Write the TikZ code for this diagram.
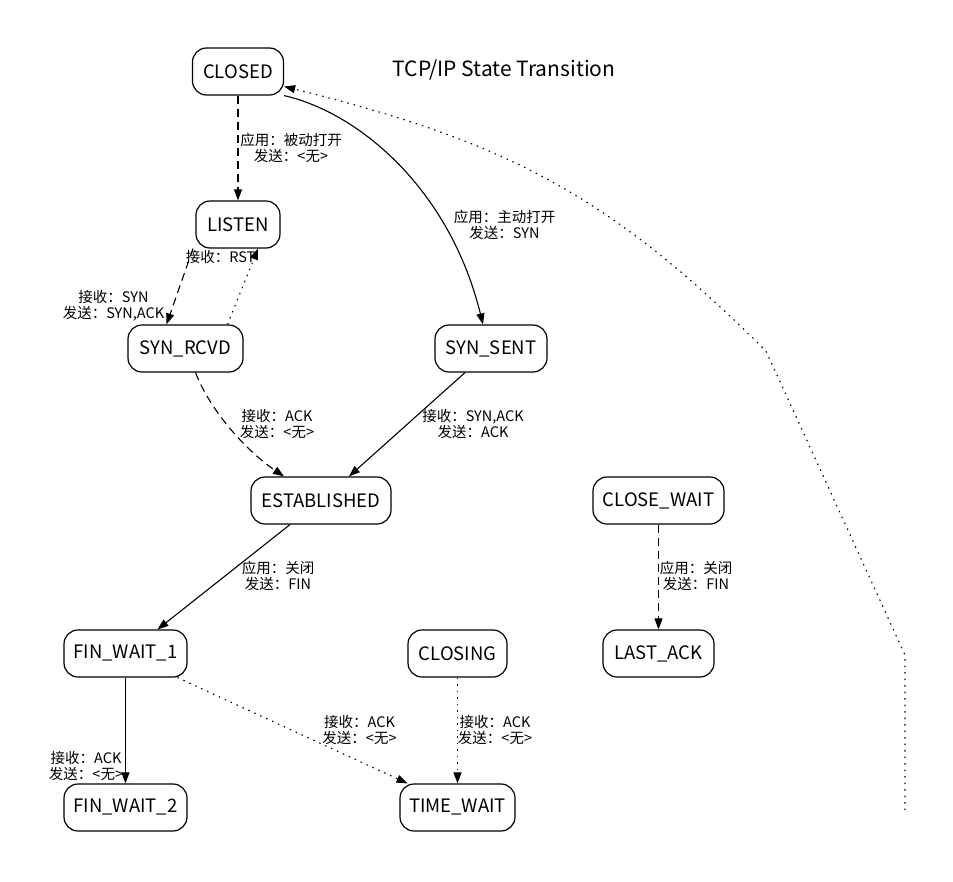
\documentclass[tikz,border=0pt]{standalone}
\usepackage{fontspec}
\setmainfont{Noto Sans CJK SC}
\usetikzlibrary{arrows.meta}
\begin{document}
\begin{tikzpicture}[x=1pt,y=-1pt,
  state/.style={draw, rounded corners=14pt, line width=1.2pt, minimum height=47pt, inner sep=0pt, font=\fontsize{18.5}{22}\selectfont},
  lbl/.style={font=\fontsize{14.5}{16}\selectfont, align=center, inner sep=0pt},
  arr/.style={-{Triangle[length=11pt,width=8pt]}, line width=1.1pt},
  dsh/.style={dash pattern=on 8pt off 5pt},
  dotline/.style={dash pattern=on 1.5pt off 5pt}]
\useasboundingbox (0,0) rectangle (953,881);

\node[font=\fontsize{21}{24}\selectfont] (title) at (504,70) {TCP/IP State Transition};

\node[state, minimum width=91pt]  (CLOSED)     at (238,71.5)  {CLOSED};
\node[state, minimum width=84pt]  (LISTEN)     at (238,224.5) {LISTEN};
\node[state, minimum width=115pt] (SYNRCVD)    at (185.5,348.5) {SYN\_RCVD};
\node[state, minimum width=112pt] (SYNSENT)    at (491,348.5) {SYN\_SENT};
\node[state, minimum width=140pt] (ESTAB)      at (321,500.5) {ESTABLISHED};
\node[state, minimum width=131pt] (CLOSEWAIT)  at (658.5,500.5) {CLOSE\_WAIT};
\node[state, minimum width=123pt] (FINWAIT1)   at (125.5,653.5) {FIN\_WAIT\_1};
\node[state, minimum width=99pt]  (CLOSING)    at (457.5,653.5) {CLOSING};
\node[state, minimum width=111pt] (LASTACK)    at (658.5,653.5) {LAST\_ACK};
\node[state, minimum width=123pt] (FINWAIT2)   at (125.5,807.5) {FIN\_WAIT\_2};
\node[state, minimum width=115pt] (TIMEWAIT)   at (457.5,807.5) {TIME\_WAIT};

\coordinate (loose) at (905,810);
\coordinate (bend1) at (905,655);
\coordinate (bend2) at (766,351);

% edges
\draw[arr, dsh] (CLOSED) -- (LISTEN);
\node[lbl] (l1) at (291,148) {应用：被动打开\\发送：<无>};

\draw[arr] (CLOSED.south east) .. controls (360,113) and (450,190) .. ([xshift=-8pt]SYNSENT.north);
\node[lbl] (l2) at (504.5,225) {应用：主动打开\\发送：SYN};

\draw[arr, dsh] ([xshift=-45pt]LISTEN.south) -- ([xshift=-19pt]SYNRCVD.north);
\node[lbl] (l3) at (113.5,306) {接收：SYN\\发送：SYN,ACK};

\draw[arr, dotline] ([xshift=42pt]SYNRCVD.north) -- ([xshift=20pt]LISTEN.south);
\node[lbl] (l4) at (220.5,257) {接收：RST};

\draw[arr, dsh] ([xshift=10pt]SYNRCVD.south) .. controls (210,410) and (245,450) .. ([xshift=-37pt]ESTAB.north);
\node[lbl] (l5) at (277,424) {接收：ACK\\发送：<无>};

\draw[arr] ([xshift=-26pt]SYNSENT.south) -- ([xshift=28pt]ESTAB.north);
\node[lbl] (l6) at (473,424) {接收：SYN,ACK\\发送：ACK};

\draw[arr] ([xshift=-31pt]ESTAB.south) -- ([xshift=32pt]FINWAIT1.north);
\node[lbl] (l7) at (278,576) {应用：关闭\\发送：FIN};

\draw[arr, dsh] (CLOSEWAIT) -- (LASTACK);
\node[lbl] (l8) at (696,576) {应用：关闭\\发送：FIN};

\draw[arr] (FINWAIT1) -- (FINWAIT2);
\node[lbl] (l9) at (86,766) {接收：ACK\\发送：<无>};

\draw[arr, dotline] ([xshift=52pt]FINWAIT1.south) -- ([xshift=-50pt]TIMEWAIT.north);
\node[lbl] (l10) at (359.5,730) {接收：ACK\\发送：<无>};

\draw[arr, dotline] (CLOSING) -- (TIMEWAIT);
\node[lbl] (l11) at (495,730) {接收：ACK\\发送：<无>};

\draw[arr, dotline] (loose) -- (bend1) -- (bend2) .. controls (608,194) and (507,142) .. ([yshift=-15pt]CLOSED.east);
\end{tikzpicture}
\end{document}
